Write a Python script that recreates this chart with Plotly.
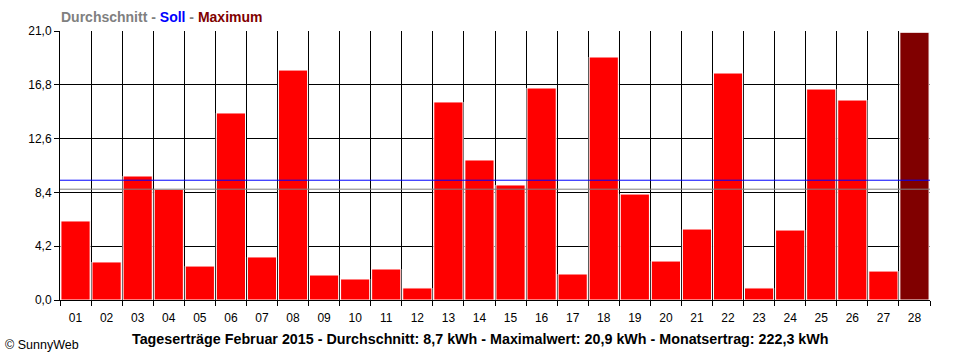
import plotly.graph_objects as go

days = ["%02d" % i for i in range(1, 29)]
ertrag = [6.17, 2.97, 9.68, 8.64, 2.65, 14.6, 3.36, 17.95, 1.95, 1.64,
          2.42, 0.94, 15.46, 10.93, 8.98, 16.55, 2.03, 18.97, 8.27, 3.04,
          5.54, 17.72, 0.94, 5.46, 16.47, 15.61, 2.26, 20.9]
durchschnitt = 8.65
soll = 9.35
y_ticks = [0, 4.2, 8.4, 12.6, 16.8, 21.0]

max_val = max(ertrag)
colors = ["#800000" if v == max_val else "#FF0000" for v in ertrag]

fig = go.Figure()
fig.add_trace(go.Bar(
    x=days, y=ertrag,
    marker=dict(color=colors, line=dict(color="white", width=1)),
    hoverinfo="x+y",
))

fig.add_shape(type="line", xref="paper", x0=0, x1=1, yref="y", y0=durchschnitt, y1=durchschnitt,
              line=dict(color="#808080", width=1))
fig.add_shape(type="line", xref="paper", x0=0, x1=1, yref="y", y0=soll, y1=soll,
              line=dict(color="#0000FF", width=1))

font = "Liberation Sans, Arial, sans-serif"

fig.update_layout(
    width=960, height=360,
    margin=dict(l=60, r=30, t=31, b=60),
    paper_bgcolor="white", plot_bgcolor="white",
    separators=",.",
    bargap=0.06,
    showlegend=False,
    font=dict(family=font, size=12, color="black"),
    xaxis=dict(
        type="category", tickson="boundaries",
        showgrid=True, gridcolor="black", gridwidth=1,
        ticks="outside", ticklen=5, tickcolor="black", tickwidth=1,
        showline=True, linecolor="black", linewidth=1,
        tickfont=dict(family=font, size=12, color="black"),
        ticklabelstandoff=7,
        range=[-0.5, 27.5],
    ),
    yaxis=dict(
        range=[0, 21.0], tickvals=y_ticks, tickformat=".1f",
        showgrid=True, gridcolor="black", gridwidth=1,
        ticks="outside", ticklen=5, tickcolor="black", tickwidth=1,
        showline=True, linecolor="black", linewidth=1,
        zeroline=False,
        tickfont=dict(family=font, size=12, color="black"),
    ),
    annotations=[
        dict(xref="paper", yref="paper", x=0, y=1, xanchor="left", yanchor="bottom",
             yshift=4, xshift=-1, showarrow=False,
             text="<b><span style='color:#808080'>Durchschnitt</span> - "
                  "<span style='color:#0000FF'>Soll</span> - "
                  "<span style='color:#800000'>Maximum</span></b>",
             font=dict(family=font, size=14, color="#808080")),
        dict(xref="paper", yref="paper", x=(480 - 60) / 870, y=0, xanchor="center", yanchor="middle",
             yshift=-39, showarrow=False,
             text="<b>Tageserträge Februar 2015 - Durchschnitt: 8,7 kWh - Maximalwert: 20,9 kWh - Monatsertrag: 222,3 kWh</b>",
             font=dict(family=font, size=14.3, color="black")),
        dict(xref="paper", yref="paper", x=-60/870, y=0, xanchor="left", yanchor="middle",
             xshift=3, yshift=-45, showarrow=False,
             text="© SunnyWeb",
             font=dict(family=font, size=12.5, color="black")),
    ],
)

fig.write_html("out.html")
